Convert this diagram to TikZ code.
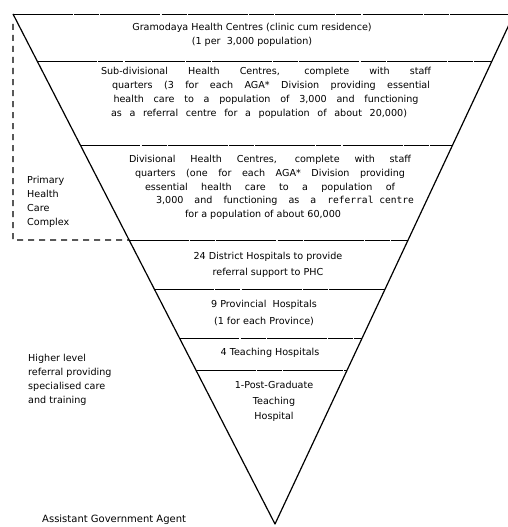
\documentclass[tikz,border=0pt]{standalone}
\usepackage{fontspec}
\setmainfont{DejaVu Sans}
\setmonofont{DejaVu Sans Mono}
\usetikzlibrary{calc}
\begin{document}
\begin{tikzpicture}[x=1pt,y=-1pt,
  edge/.style={line width=1.2pt, line join=round},
  tierline/.style={line width=0.8pt, dash pattern=on 60pt off 1.2pt on 25pt off 1.2pt},
  bracket/.style={line width=1.1pt, dash pattern=on 6pt off 5pt},
  tiertext/.style={align=center, font=\fontsize{9.6}{14}\selectfont, inner sep=0pt},
  sidetext/.style={align=left, anchor=west, font=\fontsize{9.6}{14}\selectfont, inner sep=0pt}]
\useasboundingbox (0,0) rectangle (508,527);
\fill[white] (0,0) rectangle (508,527);
\clip (0,0) rectangle (508,527);
% geometry
\coordinate (TL) at (13,14);
\coordinate (TR) at (514,14);
\coordinate (A) at (275,524);
\coordinate (TE) at (508,14);
\draw[tierline] (TL) -- (TE);
\draw[edge] (TL) -- (A) -- (TR);
\foreach \t/\n in {0.0922/1, 0.2569/2, 0.4431/3, 0.5392/4, 0.6353/5, 0.6980/6}
  \draw[tierline] ($(TL)!\t!(A)$) coordinate (L\n) -- ($(TR)!\t!(A)$) coordinate (R\n);
% bracket of primary health care complex
\coordinate (Bt) at (13,24);
\coordinate (Bb) at (13,240);
\draw[bracket] (Bt) -- (Bb) -- (L3);
% tier texts
\node[tiertext] (gram) at (252,35) {Gramodaya Health Centres (clinic cum residence)\\(1 per\ \ 3,000 population)};
\node[tiertext] (subdiv) at (266,93) {\makebox[330pt][s]{Sub-divisional Health Centres, complete with staff}\\
  \hspace*{10pt}\makebox[318pt][s]{quarters (3 for each AGA* Division providing essential}\\
  \makebox[305pt][s]{health care to a population of 3,000 and functioning}\\
  \hspace*{-14pt}\makebox[296pt][s]{as a referral centre for a population of about 20,000)}};
\node[tiertext, font=\fontsize{9.6}{13.75}\selectfont] (div) at (270,187.5) {\makebox[282pt][s]{Divisional Health Centres, complete with staff}\\
  \makebox[270pt][s]{quarters (one for each AGA* Division providing}\\
  \makebox[250pt][s]{essential health care to a population of}\\
  \hspace*{30pt}\makebox[258pt][s]{3,000 and functioning as a {\ttfamily\fontsize{9.6}{13.75}\selectfont referral centre}}\\
  \hspace*{-14pt}for a population of about 60,000};
\node[tiertext, font=\fontsize{9.6}{16}\selectfont] (dist) at (268,265) {24 District Hospitals to provide\\referral support to PHC};
\node[tiertext, font=\fontsize{9.6}{17}\selectfont] (prov) at (264,312.5) {9 Provincial\ \ Hospitals\\(1 for each Province)};
\node[tiertext] (teach) at (270,353) {4 Teaching Hospitals};
\node[tiertext, font=\fontsize{9.6}{15.5}\selectfont] (pg) at (274,401.5) {1-Post-Graduate\\Teaching\\Hospital};
% side texts
\node[sidetext] (phc) at (27,202) {Primary\\Health\\Care\\Complex};
\node[sidetext] (higher) at (28,380) {Higher level\\referral providing\\specialised care\\and training};
\node[sidetext, font=\fontsize{10}{13}\selectfont] (aga) at (42,519.5) {Assistant Government Agent};
\end{tikzpicture}
\end{document}
